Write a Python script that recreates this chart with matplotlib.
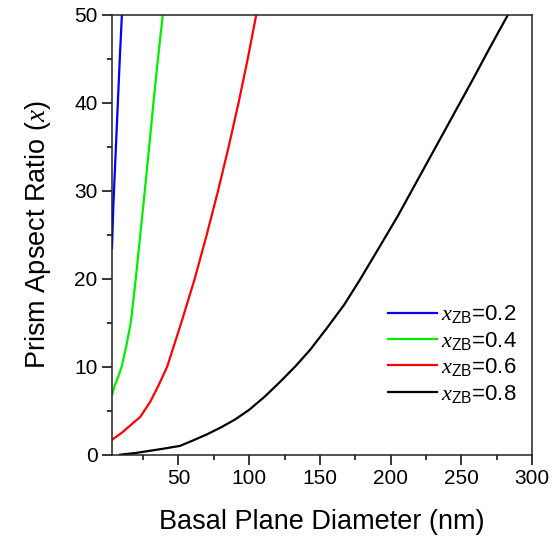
import matplotlib
matplotlib.use("Agg")
import matplotlib.pyplot as plt
from matplotlib.ticker import MultipleLocator

plt.rcParams['font.family'] = ['Liberation Sans', 'DejaVu Sans']
plt.rcParams['mathtext.fontset'] = 'custom'
plt.rcParams['mathtext.rm'] = 'Liberation Sans'
plt.rcParams['mathtext.it'] = 'Liberation Serif:italic'

# data (basal plane diameter in nm, prism aspect ratio)
d_02 = [3, 4, 5.5, 7, 8.5, 10]
r_02 = [23.5, 28.5, 34, 39.5, 45, 50]

d_04 = [3, 5, 7.5, 10, 13, 16.3, 19.8, 23, 26.2, 29.3, 32.3, 35.5, 38.9]
r_04 = [6.8, 7.9, 8.9, 10.1, 12.3, 15, 20, 25, 30, 35, 40, 45, 50]

d_06 = [3, 10, 15, 23, 30, 36, 42, 52, 61.5, 70, 78, 85.5, 92.5, 99, 105]
r_06 = [1.7, 2.5, 3.2, 4.3, 6.0, 7.9, 10, 15, 20, 25, 30, 35, 40, 45, 50]

d_08 = [8.8, 20, 30, 40, 51, 60, 70, 80, 90, 100, 111, 122, 133, 143, 155,
        167, 178, 191, 205, 218, 231, 245, 258, 270, 283]
r_08 = [0, 0.2, 0.45, 0.7, 1.0, 1.6, 2.3, 3.1, 4.0, 5.1, 6.6, 8.3, 10.1, 11.9,
        14.4, 17.0, 19.8, 23.3, 27.1, 30.9, 34.7, 38.8, 42.6, 46.2, 50]

labels = [r'$x_{\mathrm{ZB}}$=0.2', r'$x_{\mathrm{ZB}}$=0.4',
          r'$x_{\mathrm{ZB}}$=0.6', r'$x_{\mathrm{ZB}}$=0.8']
colors = ['#0000ff', '#00ee00', '#ff0000', '#000000']

fig = plt.figure(figsize=(5.52, 5.39), dpi=100)
ax = fig.add_axes([0.2029, 0.1564, 0.7609, 0.8163])

series = [(d_02, r_02), (d_04, r_04), (d_06, r_06), (d_08, r_08)]
for (dx, ry), c, lab in zip(series, colors, labels):
    ax.plot(dx, ry, color=c, lw=1.6, label=lab, clip_on=True,
            solid_joinstyle='round')

ax.set_xlim(3, 300)
ax.set_ylim(0, 50)
ax.xaxis.set_major_locator(MultipleLocator(50))
ax.xaxis.set_minor_locator(MultipleLocator(25))
ax.yaxis.set_major_locator(MultipleLocator(10))
ax.yaxis.set_minor_locator(MultipleLocator(5))
ax.tick_params(which='major', length=7, width=1.1, labelsize=15, direction='out')
ax.tick_params(which='minor', length=3.5, width=1.1, direction='out')
for s in ax.spines.values():
    s.set_linewidth(1.1)
    s.set_color('#222222')

ax.set_xlabel('Basal Plane Diameter (nm)', fontsize=19.5, labelpad=15)
ax.set_ylabel(r'Prism Apsect Ratio ($x$)', fontsize=19.5, labelpad=15)

ax.legend(loc='upper left', bbox_to_anchor=(0.657, 0.344), frameon=False,
          fontsize=16, handlelength=2.2, handletextpad=0.2, borderpad=0,
          labelspacing=0.2, borderaxespad=0)

fig.savefig('out.png', dpi=100)
